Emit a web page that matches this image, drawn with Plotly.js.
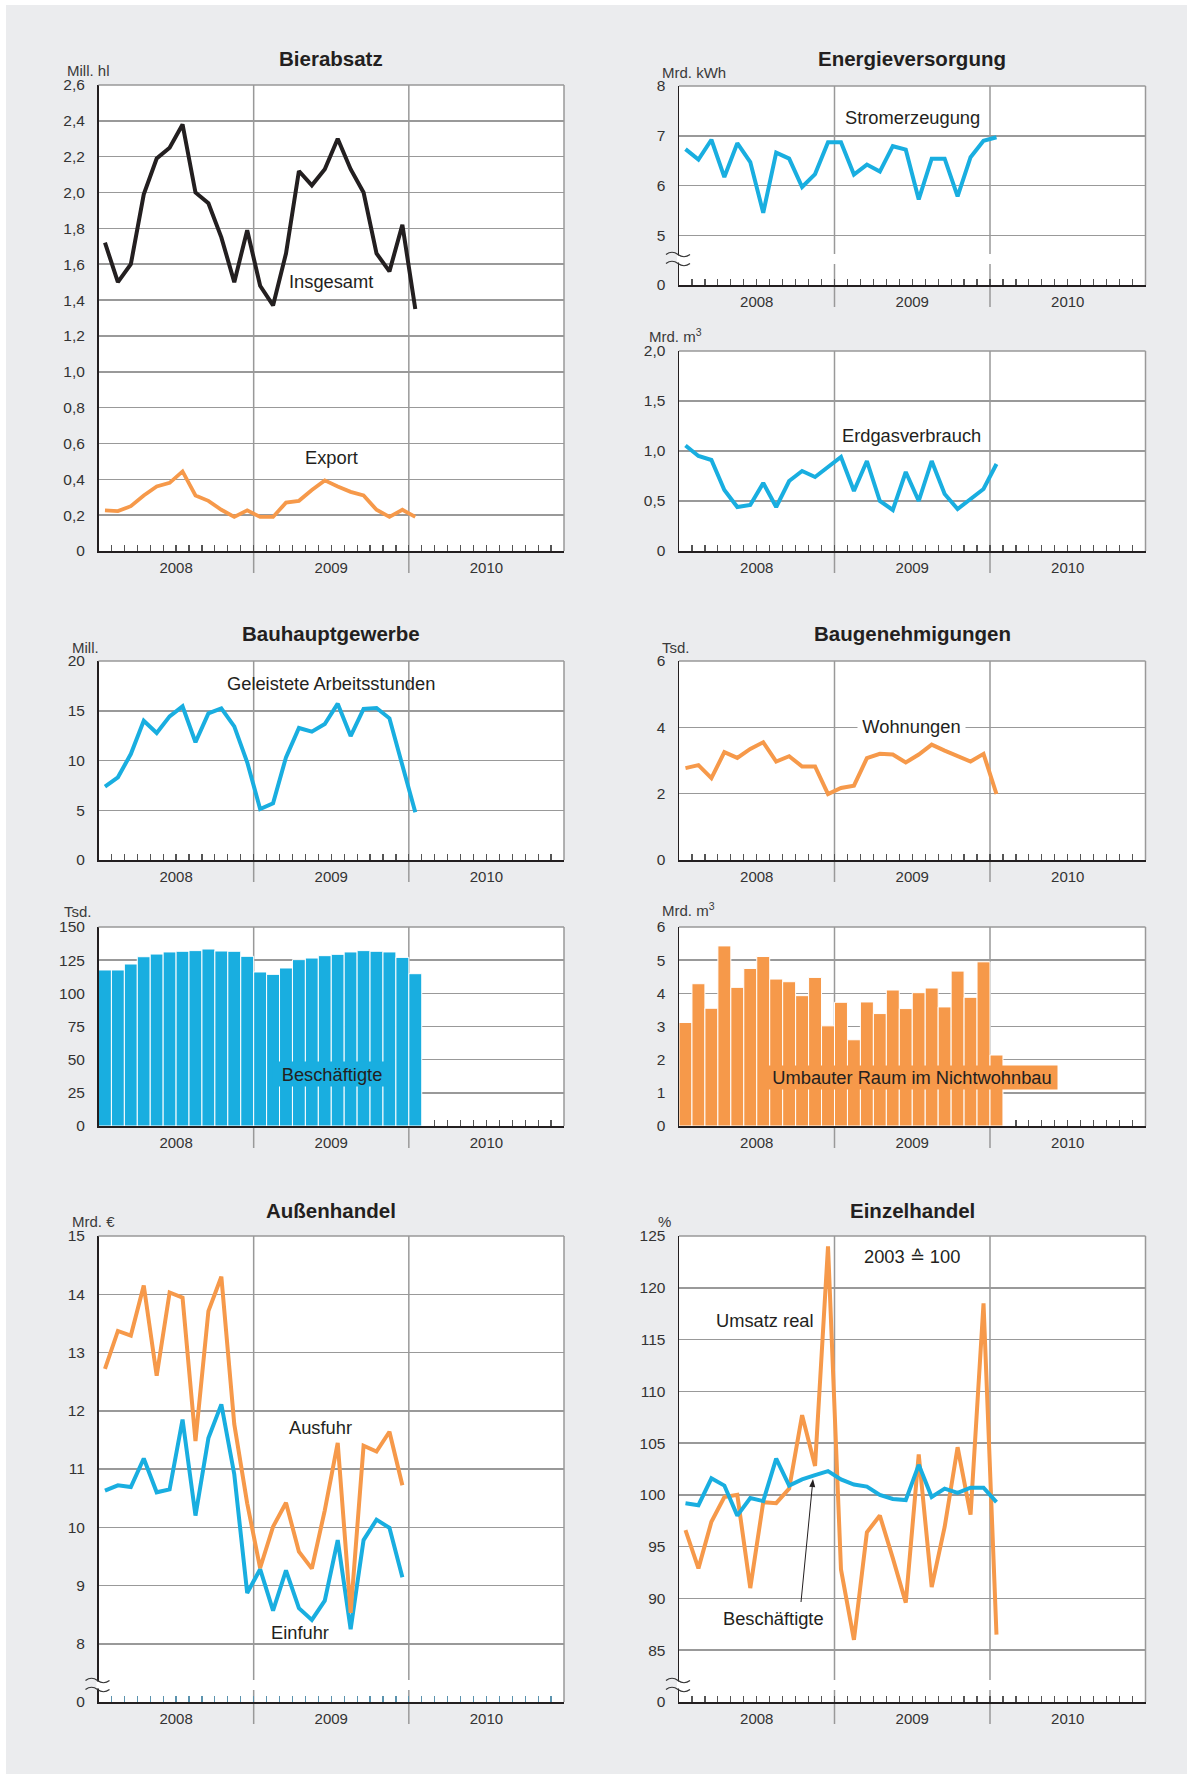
<!DOCTYPE html>
<html>
<head>
<meta charset="utf-8">
<script src="https://cdn.plot.ly/plotly-3.0.1.min.js"></script>
<style>
html,body{margin:0;padding:0;background:#ebecee;}
#chart{width:1187px;height:1774px;}
</style>
</head>
<body>
<div id="chart"></div>
<script>
// ---------------- data ----------------
const yearLabels = ['2008', '2009', '2010'];

const bierInsgesamt = [1.72,1.50,1.60,1.99,2.19,2.25,2.38,2.00,1.94,1.75,1.50,1.79,1.48,1.37,1.66,2.12,2.04,2.13,2.30,2.13,2.00,1.66,1.56,1.82,1.35];
const bierExport    = [0.227,0.223,0.25,0.31,0.36,0.38,0.444,0.31,0.28,0.23,0.19,0.227,0.19,0.19,0.27,0.28,0.34,0.394,0.36,0.33,0.31,0.23,0.19,0.23,0.19];
const stromerzeugung = [6.73,6.52,6.92,6.17,6.85,6.47,5.45,6.66,6.54,5.97,6.23,6.87,6.87,6.22,6.42,6.28,6.79,6.72,5.72,6.54,6.54,5.78,6.57,6.90,6.97];
const erdgasverbrauch = [1.055,0.95,0.91,0.61,0.44,0.46,0.68,0.44,0.70,0.80,0.74,0.84,0.94,0.60,0.90,0.50,0.41,0.79,0.50,0.90,0.57,0.42,0.52,0.62,0.87];
const arbeitsstunden = [7.37,8.31,10.65,14.0,12.76,14.44,15.44,11.83,14.74,15.24,13.43,9.82,5.13,5.70,10.32,13.27,12.90,13.67,15.71,12.46,15.18,15.28,14.24,9.65,4.79];
const beschaeftigteBau = [117.6,117.6,122.1,127.6,129.6,131.2,131.7,132.2,133.4,131.9,131.7,127.9,116.1,114.3,119.1,125.4,126.6,128.4,129.4,131.2,132.2,131.7,131.2,127.1,114.8];
const wohnungen = [2.77,2.86,2.47,3.25,3.08,3.35,3.55,2.97,3.13,2.82,2.82,1.99,2.17,2.24,3.07,3.20,3.18,2.94,3.18,3.48,3.30,3.13,2.97,3.20,1.99];
const nichtwohnbau = [3.12,4.29,3.55,5.43,4.18,4.75,5.11,4.43,4.35,3.93,4.48,3.02,3.73,2.60,3.74,3.39,4.10,3.54,4.02,4.16,3.59,4.67,3.88,4.95,2.14];
const ausfuhr = [12.72,13.37,13.29,14.15,12.60,14.03,13.94,11.48,13.71,14.30,11.77,10.41,9.30,10.01,10.42,9.58,9.29,10.29,11.45,8.53,11.40,11.30,11.64,10.72];
const einfuhr = [10.63,10.72,10.69,11.18,10.60,10.65,11.85,10.20,11.53,12.11,10.91,8.87,9.28,8.57,9.26,8.61,8.41,8.74,9.78,8.25,9.78,10.13,9.99,9.14];
const umsatzReal = [96.6,92.9,97.4,99.8,100.0,91.0,99.3,99.2,100.6,107.7,102.8,124.0,92.8,86.0,96.4,98.0,93.9,89.6,103.9,91.1,96.9,104.6,98.1,118.5,86.5];
const beschaeftigteEH = [99.2,99.0,101.6,100.9,98.0,99.7,99.4,103.5,100.9,101.5,101.9,102.3,101.5,101.0,100.8,100.0,99.6,99.5,102.9,99.8,100.6,100.2,100.7,100.7,99.3];

// tick values / labels
const bierTicks = [0,0.2,0.4,0.6,0.8,1.0,1.2,1.4,1.6,1.8,2.0,2.2,2.4,2.6];
const bierTickText = ['0','0,2','0,4','0,6','0,8','1,0','1,2','1,4','1,6','1,8','2,0','2,2','2,4','2,6'];
const stromTicks = [4,5,6,7,8];
const stromTickText = ['0','5','6','7','8'];
const gasTicks = [0,0.5,1.0,1.5,2.0];
const gasTickText = ['0','0,5','1,0','1,5','2,0'];
const stundenTicks = [0,5,10,15,20];
const beschTicks = [0,25,50,75,100,125,150];
const wohnTicks = [0,2,4,6];
const raumTicks = [0,1,2,3,4,5,6];
const handelTicks = [7,8,9,10,11,12,13,14,15];
const handelTickText = ['0','8','9','10','11','12','13','14','15'];
const ehTicks = [80,85,90,95,100,105,110,115,120,125];
const ehTickText = ['0','85','90','95','100','105','110','115','120','125'];

// ---------------- styling / layout ----------------
const W = 1187, H = 1774;
const BLUE = '#19aee0', ORANGE = '#f6994a', BLACK = '#231f20';
const GRID = '#999999', AXIS = '#231f20', TXT = '#2a2a2a';
const FONT = 'Liberation Sans, Arial, Helvetica, sans-serif';
const COLS = {L: [98.5, 564], R: [679, 1145.5]};
const px = v => v / W;
const py = v => 1 - v / H;

const panels = [
  {id:1, col:'L', T:85,    B:551,    range:[0,2.6], tv:bierTicks,   tt:bierTickText},
  {id:2, col:'R', T:86,    B:285,    range:[4,8],   tv:stromTicks,  tt:stromTickText, brk:26},
  {id:3, col:'R', T:351,   B:551,    range:[0,2],   tv:gasTicks,    tt:gasTickText},
  {id:4, col:'L', T:661,   B:860,    range:[0,20],  tv:stundenTicks},
  {id:5, col:'L', T:927,   B:1126,   range:[0,150], tv:beschTicks, bar:true},
  {id:6, col:'R', T:661,   B:860,    range:[0,6],   tv:wohnTicks},
  {id:7, col:'R', T:927,   B:1126,   range:[0,6],   tv:raumTicks, bar:true},
  {id:8, col:'L', T:1236,  B:1702,   range:[7,15],  tv:handelTicks, tt:handelTickText, brk:17, tickc:'#5b93ae'},
  {id:9, col:'R', T:1236,  B:1702,   range:[80,125],tv:ehTicks,     tt:ehTickText, brk:17}
];

const allMonths = [];
for (let i = 1; i < 36; i++) allMonths.push(i);
const barMonths = allMonths.filter(m => m >= 26);

const layout = {
  width: W, height: H,
  margin: {l:0, r:0, t:0, b:0},
  paper_bgcolor: '#ebecee',
  plot_bgcolor: '#ffffff',
  showlegend: false,
  bargap: 0,
  font: {family: FONT, color: TXT},
  shapes: [],
  annotations: []
};

panels.forEach(p => {
  const [L, R] = COLS[p.col];
  const sx = p.id === 1 ? '' : String(p.id);
  layout['xaxis' + sx] = {
    domain: [px(L), px(R)], anchor: 'y' + sx, range: [0, 36],
    tickmode: 'array', tickvals: [6, 18, 30], ticktext: yearLabels,
    ticks: '', showgrid: false, zeroline: false,
    showline: true, linecolor: AXIS, linewidth: 2,
    tickfont: {size: 15, color: '#333'}, ticklabelstandoff: 2,
    minor: {tickmode: 'array', tickvals: p.bar ? barMonths : allMonths,
            ticks: 'inside', ticklen: 6, tickwidth: 1.2, tickcolor: p.tickc || '#555', showgrid: false},
    fixedrange: true
  };
  layout['yaxis' + sx] = {
    domain: [py(p.B), py(p.T)], anchor: 'x' + sx, range: p.range,
    tickmode: 'array', tickvals: p.tv, ticktext: p.tt || p.tv.map(String),
    ticks: '', showgrid: true, gridcolor: GRID, gridwidth: 1.5, zeroline: false,
    showline: true, linecolor: AXIS, linewidth: 1.5,
    tickfont: {size: 15.5, color: '#333'}, ticklabelstandoff: 9,
    fixedrange: true
  };
  // top & right frame
  layout.shapes.push({type:'line', xref:'paper', yref:'paper', x0:px(L), x1:px(R), y0:py(p.T), y1:py(p.T),
                      line:{color:GRID, width:1.5}, layer:'above'});
  layout.shapes.push({type:'line', xref:'paper', yref:'paper', x0:px(R), x1:px(R), y0:py(p.T), y1:py(p.B),
                      line:{color:GRID, width:1.5}, layer:'above'});
  // year divider lines (extend below the axis)
  [12, 24].forEach(k => {
    const xx = px(L + (R - L) * k / 36);
    const segs = p.brk ? [[p.B + 22, p.B - p.brk + 5], [p.B - p.brk - 5, p.T]] : [[p.B + 22, p.T]];
    segs.forEach(s => layout.shapes.push({type:'line', xref:'paper', yref:'paper', x0:xx, x1:xx,
      y0:py(s[0]), y1:py(s[1]), line:{color:GRID, width:1.5}, layer:'below'}));
  });
  // axis break symbol
  if (p.brk) {
    const base = {xref:'paper', yref:'paper', xsizemode:'pixel', ysizemode:'pixel',
                  xanchor:px(L), yanchor:py(p.B - p.brk), layer:'above'};
    layout.shapes.push(Object.assign({}, base, {type:'path', path:'M -2,-3.5 L 2.5,-3.5 L 2.5,3.5 L -2,3.5 Z',
      fillcolor:'#ffffff', line:{width:0}}));
    layout.shapes.push(Object.assign({}, base, {type:'path', path:'M -13,4.5 Q -7,9 -1,4.5 T 11,4.5',
      line:{color:'#333', width:1.2}}));
    layout.shapes.push(Object.assign({}, base, {type:'path', path:'M -13,-4.5 Q -7,0 -1,-4.5 T 11,-4.5',
      line:{color:'#333', width:1.2}}));
  }
});

// white strips at top/left edge
layout.shapes.push({type:'rect', xref:'paper', yref:'paper', x0:0, x1:px(6), y0:0, y1:1, fillcolor:'#ffffff', line:{width:0}, layer:'above'});
layout.shapes.push({type:'rect', xref:'paper', yref:'paper', x0:0, x1:1, y0:py(5), y1:1, fillcolor:'#ffffff', line:{width:0}, layer:'above'});

// pointer arrow (Einzelhandel, Beschäftigte)
(function () {
  const tail = [801, 1602], tip = [813, 1479];
  const dx = tip[0] - tail[0], dy = tip[1] - tail[1];
  const len = Math.hypot(dx, dy), ux = dx / len, uy = dy / len;
  const hl = 8, hw = 3;
  const bx = tip[0] - ux * hl, by = tip[1] - uy * hl;
  layout.shapes.push({type:'line', xref:'paper', yref:'paper', x0:px(tail[0]), y0:py(tail[1]),
    x1:px(bx), y1:py(by), line:{color:BLACK, width:1}, layer:'above'});
  const p1 = [bx - uy * hw, by + ux * hw], p2 = [bx + uy * hw, by - ux * hw];
  layout.shapes.push({type:'path', xref:'paper', yref:'paper', layer:'above', fillcolor:BLACK, line:{width:0},
    path:'M ' + px(tip[0]) + ',' + py(tip[1]) + ' L ' + px(p1[0]) + ',' + py(p1[1]) +
         ' L ' + px(p2[0]) + ',' + py(p2[1]) + ' Z'});
})();

function ann(text, x, y, o) {
  layout.annotations.push(Object.assign({
    text: text, xref: 'paper', yref: 'paper', x: px(x), y: py(y),
    xanchor: 'center', yanchor: 'middle', showarrow: false,
    font: {size: 18.3, color: BLACK, family: FONT}
  }, o || {}));
}
const titleFont = {size: 20.5, color: BLACK, family: FONT};
const unitFont = {size: 15, color: '#3a3a3a', family: FONT};

// titles
ann('<b>Bierabsatz</b>', 331, 59, {font: titleFont});
ann('<b>Energieversorgung</b>', 912, 59, {font: titleFont});
ann('<b>Bauhauptgewerbe</b>', 331, 634, {font: titleFont});
ann('<b>Baugenehmigungen</b>', 912, 634, {font: titleFont});
ann('<b>Außenhandel</b>', 331, 1210, {font: titleFont});
ann('<b>Einzelhandel</b>', 912, 1210, {font: titleFont});

// units
ann('Mill. hl', 65, 71, {xanchor:'left', font: unitFont});
ann('Mrd. kWh', 659.5, 72, {xanchor:'left', font: unitFont});
ann('Mrd. m<sup>3</sup>', 647, 335, {xanchor:'left', font: unitFont});
ann('Mill.', 70, 647, {xanchor:'left', font: unitFont});
ann('Tsd.', 62, 911, {xanchor:'left', font: unitFont});
ann('Tsd.', 659.5, 647, {xanchor:'left', font: unitFont});
ann('Mrd. m<sup>3</sup>', 659.5, 910, {xanchor:'left', font: unitFont});
ann('Mrd. €', 70, 1221, {xanchor:'left', font: unitFont});
ann('%', 655.5, 1221, {xanchor:'left', font: unitFont});

// series labels
ann('Insgesamt', 331, 281);
ann('Export', 331, 457.5);
ann('Stromerzeugung', 912.5, 117);
ann('Erdgasverbrauch', 911.5, 436);
ann('Geleistete Arbeitsstunden', 330.5, 683.5);
ann('Beschäftigte', 332, 1074, {bgcolor: BLUE, width: 118, height: 24, borderpad: 0});
ann('Wohnungen', 911.5, 726.5, {bgcolor: '#ffffff', width: 107, height: 21, borderpad: 0});
ann('Umbauter Raum im Nichtwohnbau', 912, 1077.5, {bgcolor: ORANGE, width: 290, height: 23, borderpad: 0});
ann('Ausfuhr', 320, 1427);
ann('Einfuhr', 300, 1632);
ann('2003 ≙ 100', 912, 1256);
ann('Umsatz real', 765, 1320.5);
ann('Beschäftigte', 773, 1618);

// ---------------- traces ----------------
const xs = arr => arr.map((v, i) => i + 0.5);
function line(y, ax, color, width) {
  return {type:'scatter', mode:'lines', x: xs(y), y: y, xaxis:'x' + ax, yaxis:'y' + ax,
          line:{color: color, width: width || 4}, hoverinfo:'skip'};
}
function bars(y, ax, color) {
  return {type:'bar', x: xs(y), y: y, xaxis:'x' + ax, yaxis:'y' + ax,
          marker:{color: color, line:{color:'#ffffff', width:1}}, hoverinfo:'skip'};
}
const data = [
  line(bierExport, '', ORANGE, 3.8),
  line(bierInsgesamt, '', BLACK, 4),
  line(stromerzeugung, '2', BLUE),
  line(erdgasverbrauch, '3', BLUE),
  line(arbeitsstunden, '4', BLUE),
  bars(beschaeftigteBau, '5', BLUE),
  line(wohnungen, '6', ORANGE),
  bars(nichtwohnbau, '7', ORANGE),
  line(einfuhr, '8', BLUE),
  line(ausfuhr, '8', ORANGE),
  line(umsatzReal, '9', ORANGE),
  line(beschaeftigteEH, '9', BLUE)
];

Plotly.newPlot('chart', data, layout, {displayModeBar:false, staticPlot:true});
</script>
</body>
</html>
